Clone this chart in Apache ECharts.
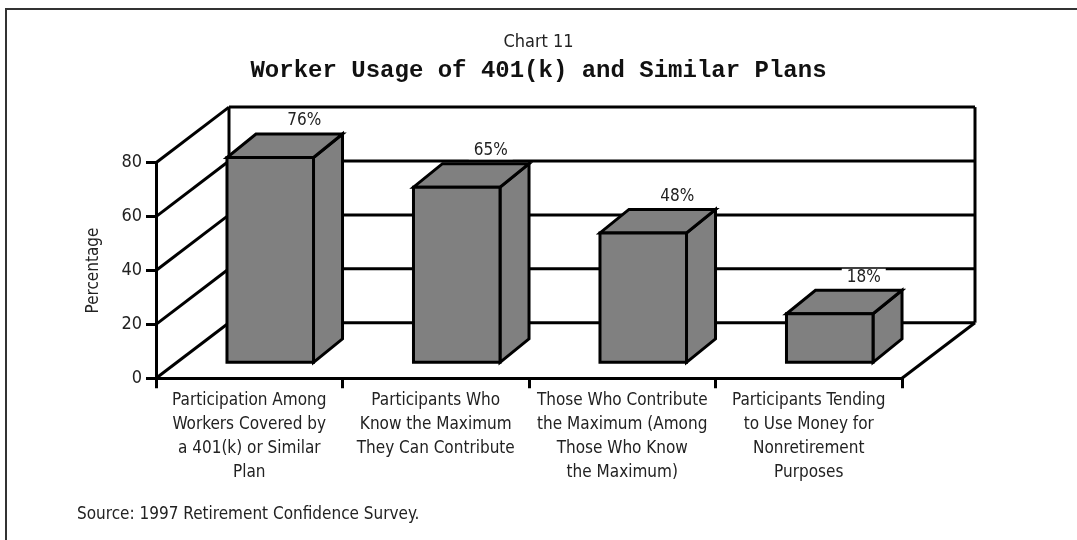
<!DOCTYPE html>
<html>
<head>
<meta charset="utf-8">
<title>Worker Usage of 401(k) and Similar Plans</title>
<script src="https://cdn.jsdelivr.net/npm/echarts@6/dist/echarts.min.js"></script>
<style>
  html, body { margin: 0; padding: 0; background: #fff; }
  #chart { width: 1077px; height: 540px; }
</style>
</head>
<body>
<div id="chart"></div>
<script>
// Survey categories (multi-line axis labels)
const categories = [
  'Participation Among\nWorkers Covered by\na 401(k) or Similar\nPlan',
  'Participants Who\nKnow the Maximum\nThey Can Contribute',
  'Those Who Contribute\nthe Maximum (Among\nThose Who Know\nthe Maximum)',
  'Participants Tending\nto Use Money for\nNonretirement\nPurposes'
];
// Percentage of workers for each category
const shares = [76, 65, 48, 18];
// Value-axis ticks
const yTicks = [0, 20, 40, 60, 80];

const NARROW = "'Liberation Sans Narrow', 'DejaVu Sans Condensed', 'Liberation Sans', sans-serif";
const INK = '#000';
const TEXT = '#222';
const FS = 17;

// Oblique projection used for the pseudo-3D box
const WALL = [73, -55.6];     // front plane -> back wall
const BAR_FRONT = [21, -16];  // front plane -> bar front face
const BAR_DEPTH = [29, -23.5];// bar front face -> bar back face
const LW = 3;

const chart = echarts.init(document.getElementById('chart'), null, { renderer: 'canvas' });

function renderWall(params, api) {
  const v = api.value(0);
  const cs = params.coordSys;
  const x0 = cs.x, x1 = cs.x + cs.width;
  const y = api.coord([0, v])[1];
  const style = { stroke: INK, lineWidth: LW, fill: null };
  const children = [
    // side-wall diagonal
    { type: 'line', shape: { x1: x0, y1: y, x2: x0 + WALL[0], y2: y + WALL[1] }, style },
    // back-wall gridline
    { type: 'line', shape: { x1: x0 + WALL[0], y1: y + WALL[1], x2: x1 + WALL[0], y2: y + WALL[1] }, style }
  ];
  if (v === yTicks[yTicks.length - 1]) {
    const yb = api.coord([0, yTicks[0]])[1];
    children.push(
      { type: 'line', shape: { x1: x0 + WALL[0], y1: yb + WALL[1], x2: x0 + WALL[0], y2: y + WALL[1] }, style },
      { type: 'line', shape: { x1: x1 + WALL[0], y1: yb + WALL[1], x2: x1 + WALL[0], y2: y + WALL[1] }, style },
      { type: 'line', shape: { x1: x1, y1: yb, x2: x1 + WALL[0], y2: yb + WALL[1] }, style }
    );
  }
  return { type: 'group', children };
}

function renderBar(params, api) {
  const idx = api.value(0);
  const val = api.value(1);
  const top = api.coord([idx, val]);
  const base = api.coord([idx, 0]);
  const half = api.size([1, 0])[0] * 0.232;
  const cx = top[0] + BAR_FRONT[0];
  const xl = cx - half, xr = cx + half;
  const yt = top[1] + BAR_FRONT[1];
  const yb = base[1] + BAR_FRONT[1];
  const dx = BAR_DEPTH[0], dy = BAR_DEPTH[1];
  const face = { fill: '#808080', stroke: INK, lineWidth: LW, lineJoin: 'miter' };
  return {
    type: 'group',
    children: [
      { type: 'polygon', shape: { points: [[xr, yt], [xr, yb], [xr + dx, yb + dy], [xr + dx, yt + dy]] }, style: face },
      { type: 'polygon', shape: { points: [[xl, yt], [xr, yt], [xr + dx, yt + dy], [xl + dx, yt + dy]] }, style: face },
      { type: 'rect', shape: { x: xl, y: yt, width: xr - xl, height: yb - yt }, style: face },
      {
        type: 'text',
        style: {
          text: val + '%',
          x: cx + dx + 5,
          y: yt + dy - 13,
          align: 'center',
          verticalAlign: 'middle',
          fill: TEXT,
          font: FS + 'px ' + NARROW,
          backgroundColor: '#fff',
          padding: [0, 5]
        }
      }
    ]
  };
}

const option = {
  backgroundColor: '#fff',
  animation: false,
  title: [
    {
      text: 'Chart 11', left: 'center', top: 28,
      textStyle: { fontFamily: NARROW, fontWeight: 'normal', fontSize: 18, color: TEXT }
    },
    {
      text: 'Worker Usage of 401(k) and Similar Plans', left: 'center', top: 54,
      textStyle: { fontFamily: "'Liberation Mono', 'DejaVu Sans Mono', monospace", fontWeight: 'bold', fontSize: 24, color: '#111' }
    },
    {
      text: 'Source: 1997 Retirement Confidence Survey.', left: 72, top: 501,
      textStyle: { fontFamily: NARROW, fontWeight: 'normal', fontSize: FS, color: TEXT }
    }
  ],
  graphic: [
    { type: 'polyline', shape: { points: [[6, 540], [6, 9], [1077, 9]] }, style: { stroke: '#333', lineWidth: 2, fill: null } }
  ],
  grid: { left: 156, right: 175, top: 162.7, bottom: 161.7, containLabel: false, outerBoundsMode: 'none' },
  xAxis: {
    type: 'category',
    data: categories,
    boundaryGap: true,
    axisLine: { lineStyle: { color: INK, width: LW } },
    axisTick: { show: true, length: 10, lineStyle: { color: INK, width: LW } },
    axisLabel: {
      interval: 0, margin: 10, lineHeight: 24,
      fontFamily: NARROW, fontSize: FS, color: TEXT, align: 'center'
    },
    splitLine: { show: false }
  },
  yAxis: {
    type: 'value',
    min: 0, max: 80, interval: 20,
    name: 'Percentage', nameLocation: 'middle', nameGap: 54, nameRotate: 90,
    nameTextStyle: { fontFamily: NARROW, fontSize: FS, color: TEXT },
    axisLine: { show: true, lineStyle: { color: INK, width: LW } },
    axisTick: { show: true, length: 10, lineStyle: { color: INK, width: LW } },
    axisLabel: { margin: 14, fontFamily: NARROW, fontSize: 18, color: TEXT },
    splitLine: { show: false }
  },
  series: [
    {
      type: 'custom', z: 1, silent: true,
      renderItem: renderWall,
      data: yTicks.map(v => [v])
    },
    {
      type: 'custom', z: 3, silent: true,
      renderItem: renderBar,
      encode: { x: 0, y: 1 },
      data: shares.map((v, i) => [i, v])
    }
  ]
};

chart.setOption(option);
</script>
</body>
</html>
